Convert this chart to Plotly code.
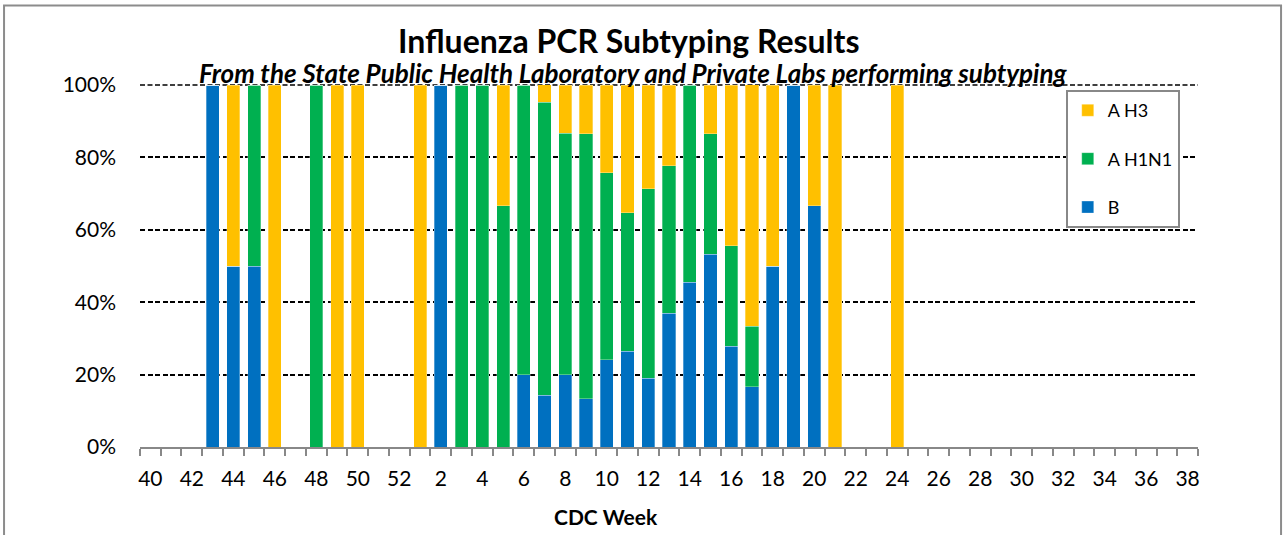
import plotly.graph_objects as go

weeks = ["40", "41", "42", "43", "44", "45", "46", "47", "48", "49", "50", "51", "52",
         "1", "2", "3", "4", "5", "6", "7", "8", "9", "10", "11", "12", "13", "14", "15",
         "16", "17", "18", "19", "20", "21", "22", "23", "24", "25", "26", "27", "28", "29",
         "30", "31", "32", "33", "34", "35", "36", "37", "38"]

# percent of subtyped specimens per week
b_pct = [0, 0, 0, 100, 50, 50, 0, 0, 0, 0, 0, 0, 0,
         0, 100, 0, 0, 0, 20, 14.3, 20, 13.3, 24.1, 26.5, 19.0, 37.0, 45.5, 53.3,
         27.8, 16.7, 50, 100, 66.7, 0, 0, 0, 0, 0, 0, 0, 0, 0,
         0, 0, 0, 0, 0, 0, 0, 0, 0]
h1n1_pct = [0, 0, 0, 0, 0, 50, 0, 0, 100, 0, 0, 0, 0,
            0, 0, 100, 100, 66.7, 80, 81.0, 66.7, 73.3, 51.7, 38.2, 52.4, 40.7, 54.5, 33.3,
            27.8, 16.7, 0, 0, 0, 0, 0, 0, 0, 0, 0, 0, 0, 0,
            0, 0, 0, 0, 0, 0, 0, 0, 0]
h3_pct = [0, 0, 0, 0, 50, 0, 100, 0, 0, 100, 100, 0, 0,
          100, 0, 0, 0, 33.3, 0, 4.8, 13.3, 13.3, 24.1, 35.3, 28.6, 22.2, 0, 13.3,
          44.4, 66.7, 50, 0, 33.3, 100, 0, 0, 100, 0, 0, 0, 0, 0,
          0, 0, 0, 0, 0, 0, 0, 0, 0]

tick_text = [w if i % 2 == 0 else "" for i, w in enumerate(weeks)]

FONT = "Lato"
# (name, values, colour, legend rank)
series = [("B", b_pct, "#0070C0", 3), ("A H1N1", h1n1_pct, "#00B050", 2), ("A H3", h3_pct, "#FFC000", 1)]

fig = go.Figure()
for name, vals, col, rank in series:
    fig.add_trace(go.Bar(
        x=weeks, y=[v / 100 for v in vals], name=name, legendgroup=name, legendrank=rank,
        marker=dict(color=col, line=dict(color="rgba(255,255,255,0.6)", width=0.5)),
    ))

fig.update_layout(
    width=1286, height=535,
    barmode="stack", bargap=0.37,
    plot_bgcolor="white", paper_bgcolor="white",
    margin=dict(l=140, r=88, t=85, b=88),
    font=dict(family=FONT, color="black"),
    showlegend=True,
    legend=dict(
        x=0.875, y=0.986, xanchor="left", yanchor="top",
        traceorder="grouped", tracegroupgap=22,
        bordercolor="#888888", borderwidth=2, bgcolor="white",
        font=dict(family=FONT, size=18), entrywidth=96,
    ),
    xaxis=dict(
        type="category", range=[-0.5, len(weeks) - 0.5],
        tickmode="array", tickvals=weeks, ticktext=tick_text, tickangle=0,
        ticks="outside", tickson="boundaries", ticklen=7, tickcolor="#888888", tickwidth=1.5,
        showline=True, linecolor="#888888", linewidth=2,
        showgrid=False, tickfont=dict(family=FONT, size=21), ticklabelstandoff=12,
    ),
    yaxis=dict(
        range=[0, 1], dtick=0.2, tickformat=".0%",
        showgrid=True, gridcolor="black", gridwidth=1.5, griddash="5px,2.5px",
        zeroline=False, showline=False, ticks="",
        ticklabelstandoff=23, tickfont=dict(family=FONT, size=21),
    ),
    annotations=[
        dict(text="<b>Influenza PCR Subtyping Results</b>", xref="paper", yref="paper",
             x=0.462, y=1.124, xanchor="center", yanchor="middle", showarrow=False,
             font=dict(family=FONT, size=32)),
        dict(text="<b><i>From the State Public Health Laboratory and Private Labs performing subtyping</i></b>",
             xref="paper", yref="paper", x=0.466, y=1.033, xanchor="center", yanchor="middle",
             showarrow=False, font=dict(family=FONT, size=26)),
        dict(text="<b>CDC Week</b>", xref="paper", yref="paper", x=0.44, y=-0.193,
             xanchor="center", yanchor="middle", showarrow=False, font=dict(family=FONT, size=21)),
    ],
    shapes=[
        dict(type="rect", xref="paper", yref="paper", x0=-0.1285, x1=1.0785, y0=-0.4, y1=1.2195,
             line=dict(color="#8c8c8c", width=2), fillcolor="rgba(0,0,0,0)", layer="below"),
        dict(type="line", xref="paper", yref="paper", x0=0, x1=1, y0=1, y1=1,
             line=dict(color="black", width=1.5, dash="5px,2.5px"), layer="below"),
    ],
)

fig.write_html("out.html", config={"displayModeBar": False},
               post_script="document.body.style.margin='0px';")
